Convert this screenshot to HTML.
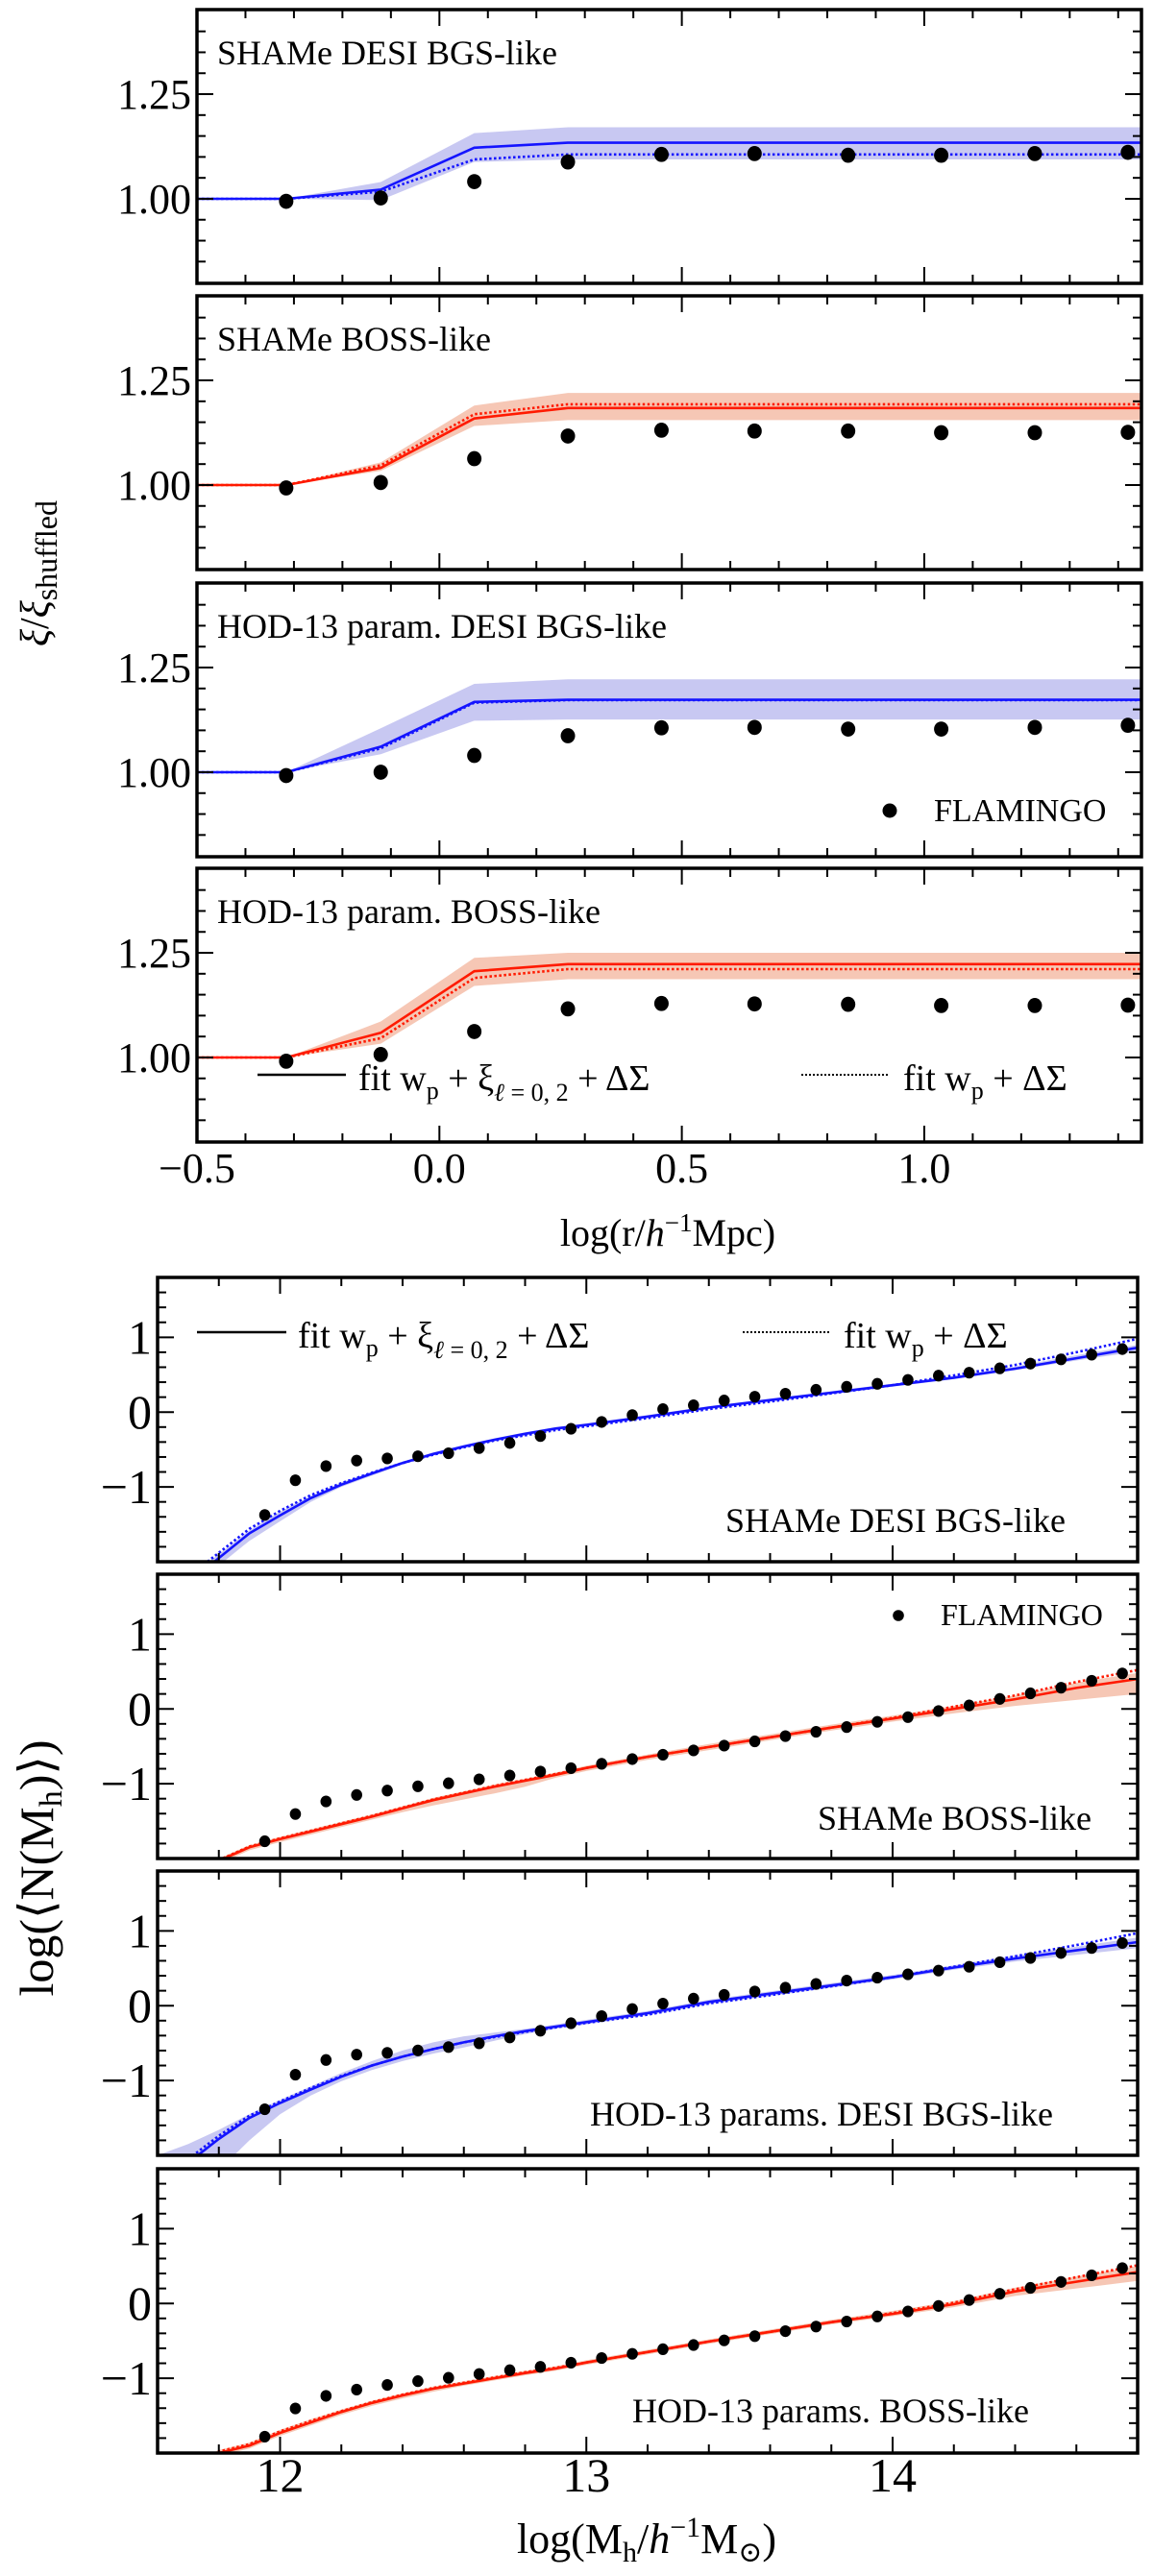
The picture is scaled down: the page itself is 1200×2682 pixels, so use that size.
<!DOCTYPE html>
<html><head><meta charset="utf-8">
<style>
html,body{margin:0;padding:0;background:#fff;}
svg, svg text{font-family:"Liberation Serif","DejaVu Serif",serif;}
svg{display:block;}
</style></head>
<body>
<svg id="fig" width="1200" height="2682" viewBox="0 0 1200 2682" xmlns="http://www.w3.org/2000/svg" font-family="Liberation Serif, DejaVu Serif, serif"></svg>
<script>
// ---------- top figure data ----------
const rX = [-0.5, -0.316, -0.121, 0.072, 0.265, 0.458, 0.650, 0.843, 1.035, 1.228, 1.448];
const rPtsX = [-0.316, -0.121, 0.072, 0.265, 0.458, 0.650, 0.843, 1.035, 1.228, 1.420];
const ratioPts1 = [0.994, 1.002, 1.041, 1.088, 1.106, 1.108, 1.104, 1.104, 1.108, 1.111];
const ratioPts2 = [0.993, 1.006, 1.063, 1.117, 1.131, 1.129, 1.129, 1.125, 1.125, 1.126];
const ratioPts3 = [0.992, 1.000, 1.040, 1.087, 1.106, 1.107, 1.103, 1.103, 1.107, 1.112];
const ratioPts4 = [0.991, 1.007, 1.062, 1.116, 1.129, 1.128, 1.127, 1.124, 1.124, 1.125];
const ratioSolid1 = [1, 1, 1.022, 1.122, 1.134, 1.134, 1.134, 1.134, 1.134, 1.134, 1.134];
const ratioDot1   = [1, 1, 1.017, 1.094, 1.106, 1.106, 1.106, 1.106, 1.106, 1.106, 1.106];
const ratioHi1    = [1, 1, 1.040, 1.157, 1.171, 1.171, 1.171, 1.171, 1.171, 1.171, 1.171];
const ratioLo1    = [1, 1, 0.997, 1.088, 1.094, 1.094, 1.094, 1.094, 1.094, 1.094, 1.094];
const ratioSolid2 = [1, 1, 1.041, 1.159, 1.184, 1.184, 1.184, 1.184, 1.184, 1.184, 1.184];
const ratioDot2   = [1, 1, 1.047, 1.169, 1.193, 1.193, 1.193, 1.193, 1.193, 1.193, 1.193];
const ratioHi2    = [1, 1, 1.054, 1.190, 1.220, 1.220, 1.220, 1.220, 1.220, 1.220, 1.220];
const ratioLo2    = [1, 1, 1.034, 1.141, 1.155, 1.155, 1.155, 1.155, 1.155, 1.155, 1.155];
const ratioSolid3 = [1, 1, 1.061, 1.168, 1.173, 1.173, 1.173, 1.173, 1.173, 1.173, 1.173];
const ratioDot3   = [1, 1, 1.057, 1.166, 1.172, 1.172, 1.172, 1.172, 1.172, 1.172, 1.172];
const ratioHi3    = [1, 1, 1.105, 1.211, 1.222, 1.222, 1.222, 1.222, 1.222, 1.222, 1.222];
const ratioLo3    = [1, 1, 1.043, 1.123, 1.126, 1.126, 1.126, 1.126, 1.126, 1.126, 1.126];
const ratioSolid4 = [1, 1, 1.059, 1.206, 1.223, 1.223, 1.223, 1.223, 1.223, 1.223, 1.223];
const ratioDot4   = [1, 1, 1.046, 1.190, 1.211, 1.211, 1.211, 1.211, 1.211, 1.211, 1.211];
const ratioHi4    = [1, 1, 1.086, 1.238, 1.250, 1.250, 1.250, 1.250, 1.250, 1.250, 1.250];
const ratioLo4    = [1, 1, 1.033, 1.171, 1.187, 1.187, 1.187, 1.187, 1.187, 1.187, 1.187];
const topXTicks = ["−0.5", "0.0", "0.5", "1.0"];
const topXTickVals = [-0.5, 0.0, 0.5, 1.0];
const topYTicks = ["1.00", "1.25"];
const topYTickVals = [1.0, 1.25];

// ---------- bottom figure data ----------
const mPtsX = [11.95,12.05,12.15,12.25,12.35,12.45,12.55,12.65,12.75,12.85,12.95,13.05,13.15,13.25,13.35,13.45,13.55,13.65,13.75,13.85,13.95,14.05,14.15,14.25,14.35,14.45,14.55,14.65,14.75];
const hodPts1 = [-1.375,-0.911,-0.722,-0.648,-0.619,-0.590,-0.550,-0.481,-0.413,-0.321,-0.223,-0.132,-0.040,0.040,0.092,0.155,0.206,0.246,0.298,0.338,0.378,0.430,0.487,0.527,0.585,0.648,0.705,0.768,0.842];
const hodPts2 = [-1.769,-1.405,-1.237,-1.150,-1.092,-1.035,-0.994,-0.942,-0.890,-0.838,-0.792,-0.734,-0.671,-0.613,-0.555,-0.491,-0.434,-0.364,-0.306,-0.243,-0.173,-0.110,-0.029,0.046,0.133,0.208,0.283,0.376,0.474];
const hodPts3 = [-1.385,-0.922,-0.726,-0.654,-0.631,-0.598,-0.553,-0.503,-0.425,-0.335,-0.235,-0.140,-0.045,0.028,0.095,0.145,0.190,0.240,0.291,0.335,0.374,0.419,0.469,0.520,0.581,0.637,0.704,0.771,0.838];
const hodPts4 = [-1.781,-1.404,-1.236,-1.152,-1.090,-1.039,-0.994,-0.944,-0.893,-0.848,-0.792,-0.730,-0.674,-0.612,-0.556,-0.494,-0.438,-0.371,-0.309,-0.242,-0.174,-0.107,-0.034,0.045,0.129,0.208,0.287,0.376,0.472];
const mCurveX = [11.6,11.7,11.8,11.9,12.0,12.1,12.2,12.3,12.4,12.5,12.6,12.7,12.8,12.9,13.0,13.2,13.4,13.6,13.8,14.0,14.2,14.4,14.6,14.8];
const hodSolid1 = [-2.6,-2.3,-1.95,-1.62,-1.38,-1.15,-0.97,-0.82,-0.68,-0.56,-0.46,-0.37,-0.29,-0.22,-0.17,-0.06,0.06,0.16,0.26,0.36,0.46,0.58,0.72,0.86];
const hodDot1   = [-2.5,-2.2,-1.88,-1.56,-1.32,-1.11,-0.95,-0.81,-0.68,-0.57,-0.47,-0.38,-0.31,-0.24,-0.19,-0.08,0.04,0.14,0.25,0.36,0.49,0.63,0.80,0.98];
const hodHi1    = [-2.5,-2.2,-1.9,-1.58,-1.33,-1.12,-0.94,-0.80,-0.66,-0.54,-0.44,-0.35,-0.27,-0.20,-0.15,-0.04,0.08,0.18,0.28,0.38,0.48,0.61,0.76,0.90];
const hodLo1    = [-2.7,-2.4,-2.05,-1.72,-1.46,-1.20,-1.00,-0.85,-0.70,-0.58,-0.48,-0.39,-0.31,-0.24,-0.19,-0.08,0.04,0.14,0.24,0.34,0.44,0.56,0.69,0.81];
const hodSolid2 = [-2.4,-2.2,-2.03,-1.85,-1.74,-1.64,-1.54,-1.44,-1.33,-1.22,-1.13,-1.04,-0.96,-0.88,-0.79,-0.64,-0.51,-0.38,-0.25,-0.13,0.00,0.13,0.28,0.40];
const hodDot2   = [-2.4,-2.2,-2.02,-1.84,-1.73,-1.63,-1.53,-1.43,-1.32,-1.21,-1.12,-1.03,-0.95,-0.87,-0.79,-0.64,-0.51,-0.38,-0.25,-0.12,0.03,0.18,0.36,0.52];
const hodHi2    = [-2.37,-2.17,-2.0,-1.82,-1.71,-1.61,-1.51,-1.41,-1.30,-1.19,-1.10,-1.01,-0.93,-0.85,-0.76,-0.61,-0.47,-0.34,-0.21,-0.09,0.04,0.18,0.35,0.48];
const hodLo2    = [-2.44,-2.24,-2.07,-1.89,-1.78,-1.68,-1.58,-1.48,-1.38,-1.29,-1.21,-1.13,-1.04,-0.92,-0.83,-0.68,-0.55,-0.42,-0.29,-0.17,-0.06,0.04,0.12,0.20];
const hodSolid3 = [-2.5,-2.1,-1.78,-1.50,-1.30,-1.12,-0.95,-0.80,-0.68,-0.58,-0.49,-0.41,-0.34,-0.28,-0.22,-0.10,0.05,0.16,0.27,0.38,0.51,0.63,0.74,0.85];
const hodDot3   = [-2.45,-2.05,-1.74,-1.47,-1.28,-1.10,-0.94,-0.80,-0.68,-0.58,-0.49,-0.42,-0.35,-0.29,-0.23,-0.12,0.03,0.14,0.26,0.38,0.52,0.66,0.81,0.97];
const hodHi3    = [-2.0,-1.85,-1.66,-1.45,-1.26,-1.08,-0.90,-0.74,-0.60,-0.49,-0.41,-0.36,-0.31,-0.25,-0.19,-0.07,0.08,0.19,0.30,0.41,0.54,0.67,0.79,0.91];
const hodLo3    = [-3.0,-2.6,-2.2,-1.80,-1.45,-1.20,-1.01,-0.86,-0.74,-0.64,-0.56,-0.47,-0.38,-0.31,-0.25,-0.13,0.02,0.13,0.24,0.35,0.48,0.59,0.68,0.77];
const hodSolid4 = [-2.4,-2.2,-2.0,-1.90,-1.73,-1.59,-1.45,-1.33,-1.23,-1.14,-1.07,-1.00,-0.93,-0.87,-0.79,-0.65,-0.51,-0.38,-0.25,-0.14,-0.01,0.16,0.29,0.42];
const hodDot4   = [-2.38,-2.18,-1.98,-1.88,-1.71,-1.57,-1.44,-1.32,-1.22,-1.13,-1.06,-0.99,-0.92,-0.86,-0.79,-0.65,-0.51,-0.38,-0.25,-0.13,0.01,0.19,0.35,0.51];
const hodHi4    = [-2.35,-2.15,-1.96,-1.86,-1.69,-1.55,-1.42,-1.30,-1.20,-1.11,-1.04,-0.97,-0.90,-0.84,-0.76,-0.62,-0.48,-0.35,-0.22,-0.10,0.03,0.21,0.36,0.50];
const hodLo4    = [-2.45,-2.25,-2.04,-1.94,-1.77,-1.63,-1.49,-1.37,-1.27,-1.18,-1.10,-1.03,-0.96,-0.90,-0.82,-0.68,-0.54,-0.41,-0.28,-0.17,-0.05,0.10,0.20,0.30];
const botXTicks = ["12", "13", "14"];
const botXTickVals = [12, 13, 14];
const botYTicks = ["−1", "0", "1"];
const botYTickVals = [-1, 0, 1];

const NS = "http://www.w3.org/2000/svg";
const FONT = "Liberation Serif, DejaVu Serif, serif";
const svg = document.getElementById("fig");
function mk(tag, attrs, parent) {
  const e = document.createElementNS(NS, tag);
  for (const k in attrs) e.setAttribute(k, attrs[k]);
  if (tag === "text") e.setAttribute("font-family", FONT);
  (parent || svg).appendChild(e);
  return e;
}
const BLUE = "#1414ff", RED = "#ff1a00", BLUEBAND = "rgba(110,110,220,0.38)", REDBAND = "rgba(236,130,90,0.45)";

function panel(cfg) {
  const g = mk("g", {});
  
  
  const sx = v => cfg.x0 + (v - cfg.xd[0]) / (cfg.xd[1] - cfg.xd[0]) * (cfg.x1 - cfg.x0);
  const sy = v => cfg.y1 - (v - cfg.yd[0]) / (cfg.yd[1] - cfg.yd[0]) * (cfg.y1 - cfg.y0);
  const cp = mk("clipPath", { id: "cp-" + cfg.name }, g);
  mk("rect", { x: cfg.x0, y: cfg.y0, width: cfg.x1 - cfg.x0, height: cfg.y1 - cfg.y0 }, cp);
  const plot = mk("g", { "clip-path": "url(#cp-" + cfg.name + ")" }, g);
  let d = "";
  cfg.lx.forEach((x, i) => d += (i ? "L" : "M") + sx(x).toFixed(1) + "," + sy(cfg.hi[i]).toFixed(1));
  for (let i = cfg.lx.length - 1; i >= 0; i--) d += "L" + sx(cfg.lx[i]).toFixed(1) + "," + sy(cfg.lo[i]).toFixed(1);
  const band = mk("path", { d: d + "Z", fill: cfg.band, stroke: "none" }, plot);
  
  
  const line = (arr, dash, nm) => {
    const p = mk("polyline", { points: cfg.lx.map((x, i) => sx(x).toFixed(1) + "," + sy(arr[i]).toFixed(1)).join(" "), fill: "none", stroke: cfg.color, "stroke-width": 2.6, "stroke-dasharray": dash ? "2.5,2.5" : "none" }, plot);
    
    
  };
  line(cfg.solid, false, 'fit-all-line');
  line(cfg.dot, true, 'fit-wp-dsigma-line');
  cfg.px.forEach((x, i) => {
    const c = mk("ellipse", { cx: sx(x), cy: sy(cfg.pts[i]), rx: cfg.r, ry: cfg.r * 1.05, fill: "#000" }, plot);
    
    
  });
  mk("rect", { x: cfg.x0, y: cfg.y0, width: cfg.x1 - cfg.x0, height: cfg.y1 - cfg.y0, fill: "none", stroke: "#000", "stroke-width": 3.5 }, g);
  const tk = (x1, y1, x2, y2) => mk("line", { x1, y1, x2, y2, stroke: "#000", "stroke-width": 2 }, g);
  for (let v = cfg.xMinorStart; v <= cfg.xd[1] + 1e-9; v += cfg.xMinor) {
    const X = sx(v); if (X < cfg.x0 + 1 || X > cfg.x1 - 1) continue;
    const major = Math.abs(v / cfg.xMajor - Math.round(v / cfg.xMajor)) < 1e-6;
    const L = major ? 17 : 9;
    tk(X, cfg.y1, X, cfg.y1 - L); tk(X, cfg.y0, X, cfg.y0 + L);
  }
  for (let v = cfg.yMinorStart; v <= cfg.yd[1] + 1e-9; v += cfg.yMinor) {
    const Y = sy(v); if (Y < cfg.y0 + 1 || Y > cfg.y1 - 1) continue;
    const major = Math.abs(v / cfg.yMajor - Math.round(v / cfg.yMajor)) < 1e-6;
    const L = major ? 17 : 9;
    tk(cfg.x0, Y, cfg.x0 + L, Y); tk(cfg.x1, Y, cfg.x1 - L, Y);
  }
  cfg.yTickVals.forEach((v, i) => {
    const t = mk("text", { x: cfg.x0 - 6, y: sy(v) + cfg.yfs * 0.34, "text-anchor": "end", "font-size": cfg.yfs }, g);
    t.textContent = cfg.yTicks[i];
    
    
  });
  if (cfg.showX) cfg.xTickVals.forEach((v, i) => {
    const t = mk("text", { x: sx(v), y: cfg.y1 + cfg.xoff, "text-anchor": "middle", "font-size": cfg.yfs }, g);
    t.textContent = cfg.xTicks[i];
    
    
  });
  const lab = mk("text", { x: cfg.labX, y: cfg.labY, "text-anchor": cfg.labAnchor, "font-size": 36 }, g);
  lab.textContent = cfg.label;
  
  
  return { sx, sy, g };
}

const topTops = [10, 308, 607, 904];
const topSets = [
  [ratioPts1, ratioSolid1, ratioDot1, ratioHi1, ratioLo1, BLUE, BLUEBAND, "SHAMe DESI BGS-like"],
  [ratioPts2, ratioSolid2, ratioDot2, ratioHi2, ratioLo2, RED, REDBAND, "SHAMe BOSS-like"],
  [ratioPts3, ratioSolid3, ratioDot3, ratioHi3, ratioLo3, BLUE, BLUEBAND, "HOD-13 param. DESI BGS-like"],
  [ratioPts4, ratioSolid4, ratioDot4, ratioHi4, ratioLo4, RED, REDBAND, "HOD-13 param. BOSS-like"]
];
const names1 = ["clustering-panel-shame-desi", "clustering-panel-shame-boss", "clustering-panel-hod-desi", "clustering-panel-hod-boss"];
topSets.forEach((s, k) => {
  const y0 = topTops[k];
  panel({ name: names1[k], x0: 205, x1: 1188, y0: y0, y1: y0 + 285, xd: [-0.5, 1.448], yd: [0.798, 1.452],
    lx: rX, solid: s[1], dot: s[2], hi: s[3], lo: s[4], px: rPtsX, pts: s[0], r: 7.5, color: s[5], band: s[6],
    xMinorStart: -0.5, xMinor: 0.1, xMajor: 0.5, yMinorStart: 0.8, yMinor: 0.05, yMajor: 0.25,
    yTicks: topYTicks, yTickVals: topYTickVals, xTicks: topXTicks, xTickVals: topXTickVals, yfs: 44, xoff: 42,
    showX: k === 3, label: s[7], labX: 226, labY: y0 + 57, labAnchor: "start" });
});

const botTops = [1330, 1639, 1948, 2258];
const botSets = [
  [hodPts1, hodSolid1, hodDot1, hodHi1, hodLo1, BLUE, BLUEBAND, "SHAMe DESI BGS-like", 1109, 265],
  [hodPts2, hodSolid2, hodDot2, hodHi2, hodLo2, RED, REDBAND, "SHAMe BOSS-like", 1136, 266],
  [hodPts3, hodSolid3, hodDot3, hodHi3, hodLo3, BLUE, BLUEBAND, "HOD-13 params. DESI BGS-like", 1096, 265],
  [hodPts4, hodSolid4, hodDot4, hodHi4, hodLo4, RED, REDBAND, "HOD-13 params. BOSS-like", 1071, 264]
];
const names2 = ["hod-panel-shame-desi", "hod-panel-shame-boss", "hod-panel-hod-desi", "hod-panel-hod-boss"];
botSets.forEach((s, k) => {
  const y0 = botTops[k];
  panel({ name: names2[k], x0: 164, x1: 1184, y0: y0, y1: y0 + 296, xd: [11.6, 14.8], yd: [-2.0, 1.8],
    lx: mCurveX, solid: s[1], dot: s[2], hi: s[3], lo: s[4], px: mPtsX, pts: s[0], r: 5.8, color: s[5], band: s[6],
    xMinorStart: 11.6, xMinor: 0.2, xMajor: 1, yMinorStart: -2.0, yMinor: 0.2, yMajor: 1,
    yTicks: botYTicks, yTickVals: botYTickVals, xTicks: botXTicks, xTickVals: botXTickVals, yfs: 50, xoff: 40,
    showX: k === 3, label: s[7], labX: s[8], labY: y0 + s[9], labAnchor: "end" });
});

function fitLegend(x, y, lx0, lx1, lineY, dx0, dx1, tx2, name) {
  const g = mk("g", {});
  
  
  mk("line", { x1: lx0, y1: lineY, x2: lx1, y2: lineY, stroke: "#000", "stroke-width": 2.6 }, g);
  const t = mk("text", { x: x, y: y, "font-size": 38 }, g);
  t.innerHTML = 'fit w<tspan font-size="26" dy="9">p</tspan><tspan dy="-9"> + ξ</tspan><tspan font-size="26" dy="11" font-style="italic">ℓ</tspan><tspan font-size="26"> = 0, 2</tspan><tspan dy="-11"> + ΔΣ</tspan>';
  mk("line", { x1: dx0, y1: lineY, x2: dx1, y2: lineY, stroke: "#000", "stroke-width": 2, "stroke-dasharray": "2,2" }, g);
  const t2 = mk("text", { x: tx2, y: y, "font-size": 38 }, g);
  t2.innerHTML = 'fit w<tspan font-size="26" dy="9">p</tspan><tspan dy="-9"> + ΔΣ</tspan>';
}
fitLegend(373, 1135, 268, 360, 1119, 834, 926, 940, "legend-top");
fitLegend(310, 1403, 205, 298, 1387, 773, 863, 878, "legend-bottom");

function flamLegend(cx, cy, tx, ty, fs, r, name) {
  const g = mk("g", {});
  
  
  mk("circle", { cx, cy, r, fill: "#000" }, g);
  const t = mk("text", { x: tx, y: ty, "font-size": fs }, g);
  t.textContent = "FLAMINGO";
}
flamLegend(926, 844, 972, 855, 34, 7.5, "flamingo-legend-top");
flamLegend(935, 1682, 979, 1692, 32, 5.8, "flamingo-legend-bottom");

let t = mk("text", { x: 695, y: 1297, "text-anchor": "middle", "font-size": 40 });
t.innerHTML = 'log(r/<tspan font-style="italic">h</tspan><tspan font-size="27" dy="-15">−1</tspan><tspan dy="15">Mpc)</tspan>';


t = mk("text", { x: 673, y: 2658, "text-anchor": "middle", "font-size": 44 });
t.innerHTML = 'log(M<tspan font-size="30" dy="9">h</tspan><tspan dy="-9">/</tspan><tspan font-style="italic">h</tspan><tspan font-size="30" dy="-17">−1</tspan><tspan dy="17">M</tspan><tspan font-size="30" dy="9">⊙</tspan><tspan dy="-9">)</tspan>';


t = mk("text", { x: 0, y: 0, "text-anchor": "middle", "font-size": 42, transform: "translate(50,597) rotate(-90)" });
t.innerHTML = '<tspan font-style="italic">ξ</tspan>/<tspan font-style="italic">ξ</tspan><tspan font-size="32" dy="9">shuffled</tspan>';


t = mk("text", { x: 0, y: 0, "text-anchor": "middle", "font-size": 50, transform: "translate(55,1945) rotate(-90)" });
t.innerHTML = 'log(⟨N(M<tspan font-size="34" dy="9">h</tspan><tspan dy="-9">)⟩)</tspan>';


</script>
</body></html>
